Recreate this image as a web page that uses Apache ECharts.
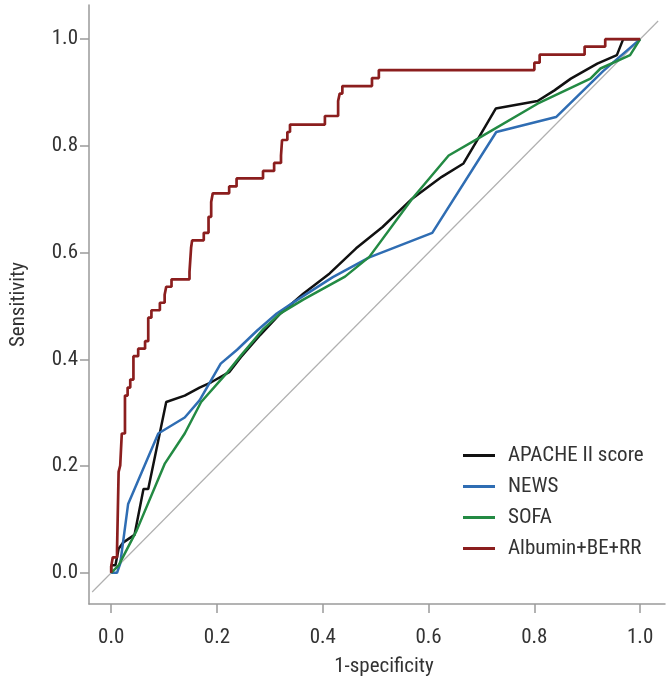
<!DOCTYPE html>
<html>
<head>
<meta charset="utf-8">
<script src="https://cdn.jsdelivr.net/npm/echarts@6/dist/echarts.min.js"></script>
<style>
html,body{margin:0;padding:0;background:#fff;}
#chart{width:670px;height:689px;}
</style>
</head>
<body>
<div id="chart"></div>
<script>
// ---- data ----
const seriesNames = ['APACHE II score', 'NEWS', 'SOFA', 'Albumin+BE+RR'];
const tickValues = [0, 0.2, 0.4, 0.6, 0.8, 1.0];

const apacheX = [0, 0, 0.008, 0.014, 0.023, 0.044, 0.061, 0.070, 0.104, 0.139, 0.167, 0.189, 0.223, 0.245, 0.282, 0.320, 0.363, 0.413, 0.463, 0.513, 0.569, 0.625, 0.666, 0.694, 0.727, 0.806, 0.838, 0.869, 0.894, 0.919, 0.956, 0.968, 1.0];
const apacheY = [0, 0.014, 0.014, 0.045, 0.057, 0.071, 0.157, 0.157, 0.320, 0.332, 0.347, 0.357, 0.376, 0.404, 0.446, 0.486, 0.523, 0.561, 0.608, 0.648, 0.701, 0.742, 0.767, 0.814, 0.870, 0.884, 0.904, 0.926, 0.940, 0.954, 0.970, 1.0, 1.0];

const newsX = [0, 0.011, 0.017, 0.032, 0.051, 0.089, 0.139, 0.167, 0.207, 0.238, 0.276, 0.313, 0.351, 0.419, 0.488, 0.607, 0.728, 0.841, 0.930, 1.0];
const newsY = [0, 0, 0.017, 0.129, 0.173, 0.261, 0.291, 0.323, 0.392, 0.418, 0.454, 0.486, 0.511, 0.554, 0.591, 0.637, 0.826, 0.854, 0.940, 1.0];

const sofaX = [0, 0.014, 0.048, 0.101, 0.139, 0.170, 0.220, 0.245, 0.288, 0.320, 0.363, 0.442, 0.488, 0.569, 0.638, 0.694, 0.806, 0.906, 0.925, 0.981, 1.0];
const sofaY = [0, 0.014, 0.079, 0.204, 0.261, 0.320, 0.376, 0.407, 0.457, 0.486, 0.512, 0.555, 0.592, 0.701, 0.782, 0.814, 0.879, 0.926, 0.945, 0.970, 1.0];

// step curve: each point is the height reached after the jump at that x
const albX = [0, 0, 0.003, 0.011, 0.014, 0.017, 0.020, 0.026, 0.031, 0.036, 0.042, 0.051, 0.064, 0.070, 0.076, 0.092, 0.101, 0.104, 0.114, 0.148, 0.151, 0.153, 0.175, 0.184, 0.189, 0.192, 0.223, 0.237, 0.287, 0.308, 0.321, 0.323, 0.333, 0.338, 0.404, 0.429, 0.432, 0.437, 0.493, 0.506, 0.800, 0.810, 0.895, 0.934, 1.0];
const albY = [0, 0.012, 0.029, 0.042, 0.189, 0.201, 0.261, 0.332, 0.347, 0.362, 0.406, 0.420, 0.434, 0.478, 0.492, 0.506, 0.521, 0.536, 0.550, 0.564, 0.609, 0.623, 0.637, 0.667, 0.695, 0.711, 0.724, 0.739, 0.753, 0.768, 0.782, 0.811, 0.826, 0.840, 0.856, 0.884, 0.898, 0.912, 0.927, 0.942, 0.956, 0.971, 0.986, 1.0, 1.0];

const refX = [-0.036, 1.034];
const refY = [-0.036, 1.034];

// ---- font choice: prefer a condensed face like the reference ----
function fontAvailable(name) {
  const ctx = document.createElement('canvas').getContext('2d');
  const t = 'APACHE II score 0.123 Sensitivity';
  let diff = false;
  ['monospace', 'serif'].forEach(g => {
    ctx.font = '20px ' + g; const a = ctx.measureText(t).width;
    ctx.font = "20px '" + name + "', " + g; const b = ctx.measureText(t).width;
    if (Math.abs(a - b) > 0.5) diff = true;
  });
  return diff;
}
const candidates = ['Liberation Sans Narrow', 'Arial Narrow', 'Roboto Condensed', 'Noto Sans Condensed', 'Open Sans Condensed', 'Noto Sans SemiCondensed', 'DejaVu Sans Condensed', 'Liberation Sans'];
let fontName = 'sans-serif';
for (const c of candidates) { if (fontAvailable(c)) { fontName = c; break; } }
const FONT = "'" + fontName + "', sans-serif";
const FS = /Narrow|Condensed/.test(fontName) && fontName !== 'DejaVu Sans Condensed' ? 21 : 18.5;

// ---- build ----
function zip(xs, ys) { return xs.map((x, i) => [x, ys[i]]); }
const TXT = '#333333';
const AX = '#9a9a9a';

const chart = echarts.init(document.getElementById('chart'), null, { renderer: 'canvas' });
chart.setOption({
  backgroundColor: '#ffffff',
  animation: false,
  textStyle: { fontFamily: FONT },
  grid: { left: 83, right: 5, top: 5, bottom: 85, containLabel: false },
  legend: {
    orient: 'vertical',
    left: 458, top: 440,
    data: seriesNames,
    icon: 'rect',
    itemWidth: 32, itemHeight: 3, itemGap: 10,
    textStyle: { fontFamily: FONT, fontSize: FS, color: TXT, padding: [0, 0, 0, 8] }
  },
  xAxis: {
    type: 'value', min: -0.042, max: 1.047,
    name: '1-specificity', nameLocation: 'middle', nameGap: 52,
    nameTextStyle: { fontFamily: FONT, fontSize: FS, color: TXT, padding: [0, 0, 0, 14] },
    axisLine: { show: true, onZero: false, lineStyle: { color: AX, width: 1.5 } },
    axisTick: { show: true, length: 9, customValues: tickValues, lineStyle: { color: AX, width: 1.5 } },
    axisLabel: { customValues: tickValues, margin: 23, fontFamily: FONT, fontSize: FS, color: TXT, formatter: v => v.toFixed(1) },
    splitLine: { show: false }
  },
  yAxis: {
    type: 'value', min: -0.0585, max: 1.064,
    name: 'Sensitivity', nameLocation: 'middle', nameGap: 60, nameRotate: 90,
    nameTextStyle: { fontFamily: FONT, fontSize: FS, color: TXT },
    axisLine: { show: true, onZero: false, lineStyle: { color: AX, width: 1.5 } },
    axisTick: { show: true, length: 9, customValues: tickValues, lineStyle: { color: AX, width: 1.5 } },
    axisLabel: { customValues: tickValues, margin: 11, fontFamily: FONT, fontSize: FS, color: TXT, formatter: v => v.toFixed(1) },
    splitLine: { show: false }
  },
  series: [
    { name: 'reference', type: 'line', data: zip(refX, refY), symbol: 'none', silent: true,
      lineStyle: { color: '#b0b0b0', width: 1.2 }, z: 1 },
    { name: seriesNames[0], type: 'line', data: zip(apacheX, apacheY), symbol: 'none',
      itemStyle: { color: '#111111' }, lineStyle: { color: '#111111', width: 2.5 }, z: 2 },
    { name: seriesNames[1], type: 'line', data: zip(newsX, newsY), symbol: 'none',
      itemStyle: { color: '#2f6db3' }, lineStyle: { color: '#2f6db3', width: 2.5 }, z: 2 },
    { name: seriesNames[2], type: 'line', data: zip(sofaX, sofaY), symbol: 'none',
      itemStyle: { color: '#238a43' }, lineStyle: { color: '#238a43', width: 2.5 }, z: 2 },
    { name: seriesNames[3], type: 'line', step: 'end', data: zip(albX, albY), symbol: 'none',
      itemStyle: { color: '#8b1e1e' }, lineStyle: { color: '#8b1e1e', width: 2.7 }, z: 3 }
  ]
});
</script>
</body>
</html>
